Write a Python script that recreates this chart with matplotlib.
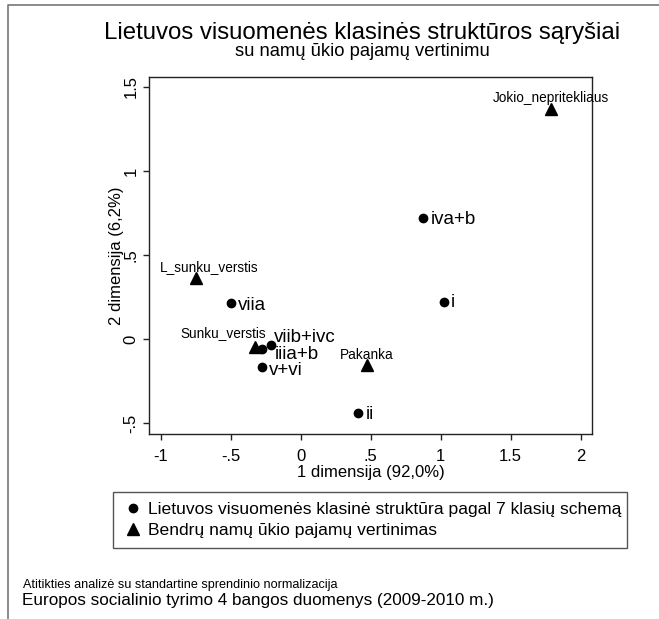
import matplotlib
matplotlib.use("Agg")
import matplotlib.pyplot as plt
from matplotlib.lines import Line2D
from matplotlib.patches import Rectangle

plt.rcParams["font.family"] = ["Liberation Sans", "DejaVu Sans"]

# ── Data ──────────────────────────────────────────────────────────────────────

class_labels = ["iva+b", "viia", "i", "viib+ivc", "iiia+b", "v+vi", "ii"]
class_x      = [0.876, -0.50, 1.024, -0.214, -0.274, -0.274, 0.411]
class_y      = [0.718, 0.212, 0.222, -0.036, -0.060, -0.168, -0.442]

income_labels = ["Jokio_nepritekliaus", "L_sunku_verstis", "Sunku_verstis", "Pakanka"]
income_x      = [1.79, -0.748, -0.326, 0.471]
income_y      = [1.367, 0.363, -0.050, -0.155]

x_ticks       = [-1, -0.5, 0, 0.5, 1, 1.5, 2]
x_tick_labels = ["-1", "-.5", "0", ".5", "1", "1.5", "2"]
y_ticks       = [-0.5, 0, 0.5, 1, 1.5]
y_tick_labels = ["-.5", "0", ".5", "1", "1.5"]

legend_labels = ["Lietuvos visuomenės klasinė struktūra pagal 7 klasių schemą",
                 "Bendrų namų ūkio pajamų vertinimas"]

# label offsets in pixels (dx right, dy down)
class_offsets  = [(7, 1), (7, 2), (7, 1), (3, -8), (12, 5), (7, 3), (7, 1)]
income_offsets = [(0, -11), (13, -11), (-32, -14), (0, -10)]

PX = 72 / 100
W, H = 659, 619

# ── Figure ────────────────────────────────────────────────────────────────────

fig = plt.figure(figsize=(W / 100, H / 100), dpi=100)
ax = fig.add_axes([149 / W, 1 - 434 / H, (592 - 149) / W, (434 - 77.3) / H])

ax.plot(class_x, class_y, "o", color="black", markersize=6, linestyle="none")
ax.plot(income_x, income_y, "^", color="black", markersize=8, linestyle="none")

for lab, x, y, (dx, dy) in zip(class_labels, class_x, class_y, class_offsets):
    ax.annotate(lab, (x, y), xytext=(dx * PX, -dy * PX), textcoords="offset points",
                ha="left", va="center", fontsize=13.5)

for lab, x, y, (dx, dy) in zip(income_labels, income_x, income_y, income_offsets):
    ax.annotate(lab, (x, y), xytext=(dx * PX, -dy * PX), textcoords="offset points",
                ha="center", va="center", fontsize=9.8)

ax.set_xlim(-1.084, 2.081)
ax.set_ylim(-0.565, 1.557)
ax.set_xticks(x_ticks)
ax.set_xticklabels(x_tick_labels, fontsize=12)
ax.set_yticks(y_ticks)
ax.set_yticklabels(y_tick_labels, fontsize=12, rotation=90, va="center")
ax.tick_params(direction="out", length=4.5, width=1, color="#222222")
ax.tick_params(axis="x", pad=6)
ax.tick_params(axis="y", pad=3)
for sp in ax.spines.values():
    sp.set_linewidth(1)
    sp.set_color("#222222")

ax.set_xlabel("1 dimensija (92,0%)", fontsize=12, labelpad=1)
ax.set_ylabel("2 dimensija (6,2%)", fontsize=12, labelpad=0)

# ── Titles ────────────────────────────────────────────────────────────────────

fig.text(362 / W, 1 - 33 / H, "Lietuvos visuomenės klasinės struktūros sąryšiai",
         ha="center", va="center", fontsize=17.3)
fig.text(362 / W, 1 - 51 / H, "su namų ūkio pajamų vertinimu",
         ha="center", va="center", fontsize=13.2)

# ── Legend ────────────────────────────────────────────────────────────────────

fig.add_artist(Rectangle((113 / W, 1 - 548 / H), (627 - 113) / W, (548 - 492) / H,
                         transform=fig.transFigure, fill=False,
                         edgecolor="#555555", linewidth=1))
handles = [
    Line2D([], [], marker="o", color="black", linestyle="none", markersize=6),
    Line2D([], [], marker="^", color="black", linestyle="none", markersize=8),
]
fig.legend(handles, legend_labels, loc="center left",
           bbox_to_anchor=(124 / W, 1 - 520 / H), fontsize=12.6, frameon=False,
           handlelength=1.0, handletextpad=0.36, borderpad=0, labelspacing=0.3,
           borderaxespad=0)

# ── Notes ─────────────────────────────────────────────────────────────────────

fig.text(23 / W, 1 - 585 / H, "Atitikties analizė su standartine sprendinio normalizacija",
         ha="left", va="center", fontsize=9.1)
fig.text(22 / W, 1 - 600 / H, "Europos socialinio tyrimo 4 bangos duomenys (2009-2010 m.)",
         ha="left", va="center", fontsize=12.3)

# outer frame (top and left edges visible)
fig.add_artist(Line2D([8 / W, 8 / W, 1], [0, 1 - 5 / H, 1 - 5 / H],
                      transform=fig.transFigure, color="#777777", linewidth=1.2))

fig.savefig("out.png", dpi=100)
